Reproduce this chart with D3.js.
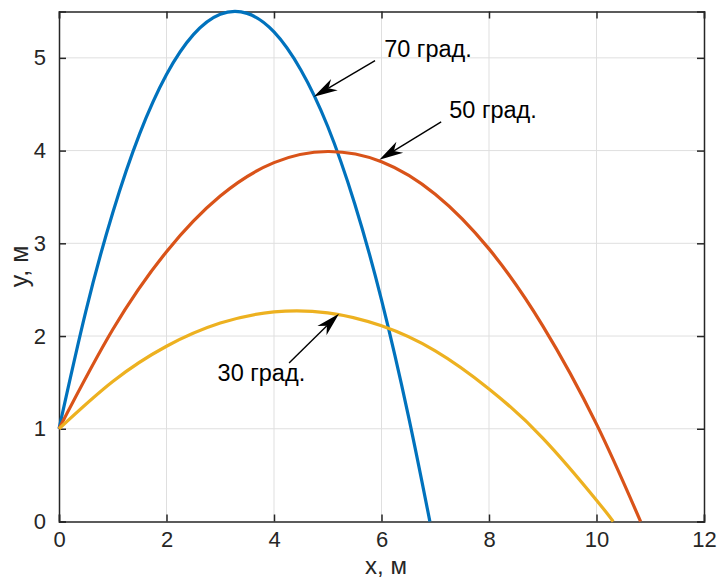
<!DOCTYPE html>
<html>
<head>
<meta charset="utf-8">
<script src="https://cdn.jsdelivr.net/npm/d3@7"></script>
<style>
  body { margin: 0; background: #fff; }
  svg { display: block; font-family: "Liberation Sans", Arial, sans-serif; }
</style>
</head>
<body>
<svg id="chart" width="721" height="579"></svg>
<script>
// trajectories, [x, y] in metres
var traj70 = [[0, 1], [0.5, 2.27], [1, 3.33], [1.5, 4.18], [2, 4.82], [2.5, 5.25], [3, 5.47],
              [3.5, 5.48], [4, 5.28], [4.5, 4.87], [5, 4.26], [5.5, 3.43], [6, 2.39], [6.5, 1.14], [6.9, 0]];
var traj50 = [[0, 1], [1, 2.07], [2, 2.91], [3, 3.51], [4, 3.87], [5, 3.99], [6, 3.88],
              [7, 3.53], [8, 2.94], [9, 2.11], [10, 1.05], [10.82, 0]];
var traj30 = [[0, 1], [1, 1.51], [2, 1.89], [3, 2.14], [4, 2.26], [5, 2.25], [6, 2.11],
              [7, 1.84], [8, 1.43], [9, 0.90], [10, 0.23], [10.31, 0]];

var xTicks = [0, 2, 4, 6, 8, 10, 12];
var yTicks = [0, 1, 2, 3, 4, 5];

// annotations: text anchor, arrow tail, arrow head (data units)
var notes = [
  { label: "70 град.", text: [6.05, 5.01], from: [5.88, 4.97], to: [4.74, 4.58] },
  { label: "50 град.", text: [7.26, 4.35], from: [7.11, 4.31], to: [5.96, 3.90] },
  { label: "30 град.", text: [2.95, 1.51], from: [4.28, 1.71], to: [5.21, 2.24] }
];

var series = [
  { data: traj70, color: "#0072BD" },
  { data: traj50, color: "#D95319" },
  { data: traj30, color: "#EDB120" }
];

(function draw() {
  var svg = d3.select("#chart");
  var pl = 59, pr = 704, pt = 11.5, pb = 521.5;

  var x = d3.scaleLinear().domain([0, 12]).range([pl, pr]);
  var y = d3.scaleLinear().domain([0, 5.5]).range([pb, pt]);

  // grid
  var grid = svg.append("g").attr("stroke", "#dfdfdf").attr("stroke-width", 1);
  grid.selectAll("line.gx").data(xTicks.slice(1, -1)).enter().append("line")
      .attr("x1", d => x(d)).attr("x2", d => x(d)).attr("y1", pt).attr("y2", pb);
  grid.selectAll("line.gy").data(yTicks.slice(1)).enter().append("line")
      .attr("y1", d => y(d)).attr("y2", d => y(d)).attr("x1", pl).attr("x2", pr);

  // axes (ticks inside, MATLAB style)
  var tickCol = "#262626";
  var fmt = d3.format("d");
  svg.append("g").attr("transform", "translate(0," + pb + ")")
      .call(d3.axisBottom(x).tickValues(xTicks).tickFormat(fmt).tickSize(-7).tickPadding(10));
  svg.append("g").attr("transform", "translate(" + pl + ",0)")
      .call(d3.axisLeft(y).tickValues(yTicks).tickFormat(fmt).tickSize(-7).tickPadding(13));
  svg.append("g").attr("transform", "translate(0," + pt + ")")
      .call(d3.axisTop(x).tickValues(xTicks).tickSize(-7).tickFormat(""));
  svg.append("g").attr("transform", "translate(" + pr + ",0)")
      .call(d3.axisRight(y).tickValues(yTicks).tickSize(-7).tickFormat(""));

  svg.selectAll(".domain").attr("stroke", tickCol).attr("stroke-width", 1.5);
  svg.selectAll(".tick line").attr("stroke", tickCol).attr("stroke-width", 1.5);
  svg.selectAll(".tick text").attr("fill", tickCol).style("font-size", "22px")
      .style("font-family", "Liberation Sans, Arial, sans-serif");

  // curves
  var line = d3.line().x(d => x(d[0])).y(d => y(d[1])).curve(d3.curveNatural);
  svg.append("g").selectAll("path").data(series).enter().append("path")
      .attr("d", d => line(d.data))
      .attr("fill", "none")
      .attr("stroke", d => d.color)
      .attr("stroke-width", 3.2)
      .attr("stroke-linejoin", "round");

  // annotations
  var ann = svg.append("g");
  notes.forEach(function(n) {
    var x0 = x(n.from[0]), y0 = y(n.from[1]);
    var x1 = x(n.to[0]), y1 = y(n.to[1]);
    var ang = Math.atan2(y1 - y0, x1 - x0);
    var len = 24, half = 6.5, notch = 17;
    var ca = Math.cos(ang), sa = Math.sin(ang);
    var bx = x1 - len * ca, by = y1 - len * sa;
    var nx = x1 - notch * ca, ny = y1 - notch * sa;
    ann.append("line")
        .attr("x1", x0).attr("y1", y0).attr("x2", nx).attr("y2", ny)
        .attr("stroke", "#000").attr("stroke-width", 1.4);
    ann.append("path")
        .attr("d", "M" + x1 + "," + y1 +
                   "L" + (bx - half * sa) + "," + (by + half * ca) +
                   "L" + nx + "," + ny +
                   "L" + (bx + half * sa) + "," + (by - half * ca) + "Z")
        .attr("fill", "#000");
    ann.append("text")
        .attr("x", x(n.text[0])).attr("y", y(n.text[1]))
        .attr("fill", "#000")
        .style("font-size", "23.5px")
        .text(n.label);
  });

  // axis labels
  svg.append("text")
      .attr("x", 386).attr("y", 574)
      .attr("text-anchor", "middle").attr("fill", tickCol)
      .style("font-size", "24px")
      .text("x, м");
  svg.append("text")
      .attr("transform", "translate(28," + (pt + pb) / 2 + ") rotate(-90)")
      .attr("text-anchor", "middle").attr("fill", tickCol)
      .style("font-size", "25px")
      .text("y, м");
})();
</script>
</body>
</html>
